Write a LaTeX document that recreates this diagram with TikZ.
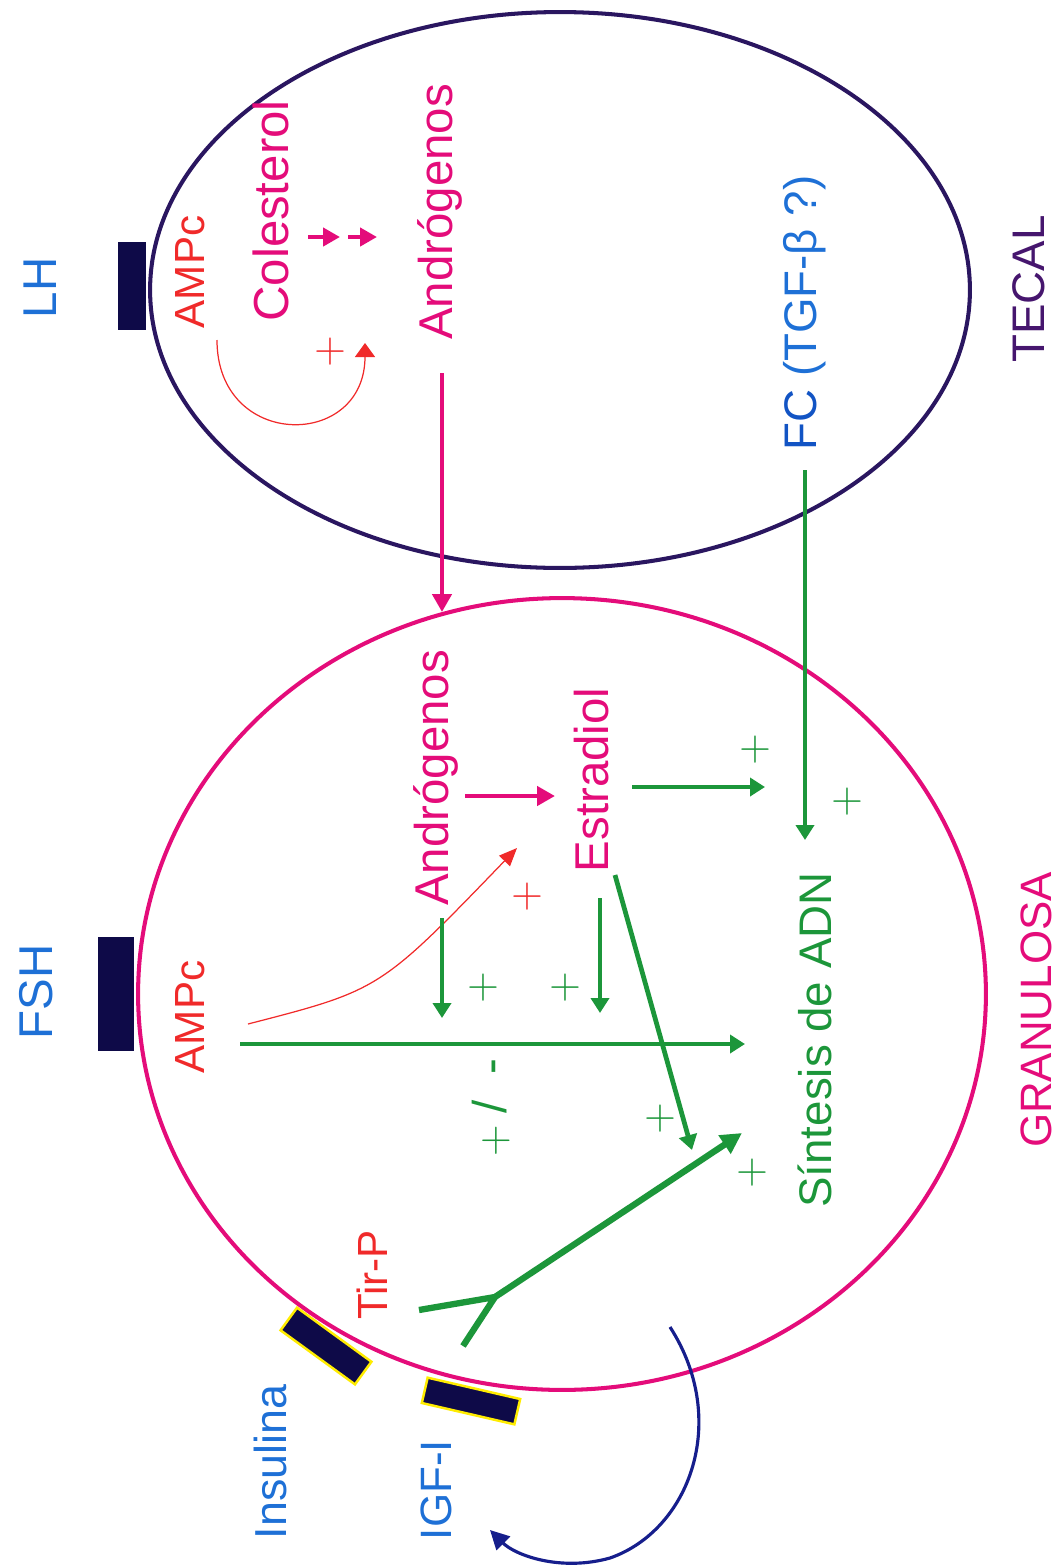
\documentclass[tikz,border=0pt]{standalone}
\usepackage{fontspec}
\setmainfont{Liberation Sans}
\usetikzlibrary{arrows.meta,positioning}
\definecolor{mag}{RGB}{228,12,122}
\definecolor{grn}{RGB}{28,150,58}
\definecolor{rd}{RGB}{240,42,42}
\definecolor{blu}{RGB}{30,112,214}
\definecolor{fcb}{RGB}{18,84,196}
\definecolor{nvy}{RGB}{14,10,72}
\definecolor{tec}{RGB}{42,22,96}
\definecolor{tecl}{RGB}{70,22,110}
\definecolor{ylw}{RGB}{255,236,0}
\definecolor{arcb}{RGB}{22,30,140}
\tikzset{lbl/.style={rotate=90,inner sep=0pt,font=\fontsize{#1}{#1}\selectfont},lbl/.default=26,
 sgn/.style={inner sep=0pt,font=\fontsize{30}{30}\selectfont},
 rcp/.style={fill=nvy,inner sep=0pt},
 ga/.style={draw=grn,line width=2.7pt,-{Triangle[length=0.3cm,width=0.36cm]}},
 ma/.style={draw=mag,line width=2.7pt,-{Triangle[length=0.36cm,width=0.38cm]}},
 ra/.style={draw=rd,line width=0.7pt,-{Triangle[length=0.3cm,width=0.32cm]}}}

\begin{document}
\begin{tikzpicture}[x=0.02cm,y=-0.02cm]
\useasboundingbox (0,0) rectangle (1060,1566);
\draw[tec,line width=2.3pt] (560,290) ellipse [x radius=8.2cm,y radius=5.56cm];
\draw[mag,line width=2.3pt] (562,994) ellipse [x radius=8.48cm,y radius=7.92cm];
\node[rcp,minimum width=0.58cm,minimum height=1.76cm] (lhr) at (132,286) {};
\node[rcp,minimum width=0.74cm,minimum height=2.28cm] (fshr) at (116,994) {};
\node[rcp,draw=ylw,line width=1.4pt,minimum width=1.84cm,minimum height=0.56cm,rotate=-36] (insr) at (326,1346) {};
\node[rcp,draw=ylw,line width=1.4pt,minimum width=1.9cm,minimum height=0.52cm,rotate=-13] (igfr) at (471,1401) {};
\node[lbl=27,blu] (lh) at (40,288) {LH};\node[lbl=24,rd] (amp1) at (190,272) {AMPc};
\node[lbl=28,mag] (col) at (271,211) {Colesterol};\node[lbl=27,mag] (and1) at (440,212) {Andrógenos};
\node[lbl,fcb] (fc) at (805,313) {FC \textcolor{blu}{(TGF-β ?)}};\node[lbl,tecl] (tecal) at (1029,289) {TECAL};
\node[lbl=27,mag] (and2) at (436,778) {Andrógenos};\node[lbl=27,mag] (est) at (592,780) {Estradiol};
\node[lbl,grn] (sint) at (815,1040) {Síntesis de ADN};\node[lbl=25,mag] (gran) at (1036,1010) {GRANULOSA};
\node[lbl=27,blu] (fsh) at (36,992) {FSH};\node[lbl=24,rd] (amp2) at (190,1017) {AMPc};
\node[lbl=24,rd] (tir) at (372,1275) {Tir-P};\node[lbl=25.5,blu] (ins) at (270,1462) {Insulina};
\node[lbl=25,blu] (igf) at (436,1490) {IGF-I};
\node[sgn,rd] (p1) at (330,352) {$+$};\node[sgn,rd] (p2) at (527,897) {$+$};
\node[sgn,grn] (p3) at (483,988) {$+$};\node[sgn,grn] (p4) at (565,988) {$+$};
\node[sgn,grn] (p5) at (755,750) {$+$};\node[sgn,grn] (p6) at (847,802) {$+$};
\node[sgn,grn] (p7) at (660,1119) {$+$};\node[sgn,grn] (p8) at (752,1173) {$+$};
\node[lbl=27,grn] (pm) at (491,1108) {{\fontsize{30}{30}\selectfont$+$}\hspace{0.25cm}/\hspace{0.5cm}-};
\coordinate (k1) at (308,237);\coordinate (k2) at (340,237);\coordinate (k3) at (348,237);\coordinate (k4) at (377,237);
\coordinate (r1) at (217,340);\coordinate (r2) at (365,343);\coordinate (r3) at (248,1024);\coordinate (r4) at (517,848);
\coordinate (m1) at (442,373);\coordinate (m2) at (442,612);\coordinate (m3) at (465,796);\coordinate (m4) at (555,796);
\coordinate (f1) at (805,470);\coordinate (f2) at (805,840);
\coordinate (e1) at (632,787);\coordinate (e2) at (765,787);\coordinate (e3) at (600,898);\coordinate (e4) at (600,1013);
\coordinate (e5) at (615,875);\coordinate (e6) at (692,1150);
\coordinate (h1) at (240,1044);\coordinate (h2) at (745,1044);\coordinate (n1) at (442,918);\coordinate (n2) at (442,1018);
\coordinate (y0) at (495,1297);\coordinate (y1) at (419,1310);\coordinate (y2) at (463,1346);\coordinate (y3) at (742,1133);
\coordinate (b1) at (670,1327);\coordinate (b2) at (490,1530);
\draw[ma,-{Triangle[length=0.34cm,width=0.36cm]}] (k1)--(k2);\draw[ma,-{Triangle[length=0.34cm,width=0.36cm]}] (k3)--(k4);
\draw[ra,-{Triangle[length=0.28cm,width=0.4cm]}] (r1) .. controls (217,450) and (365,450) .. (r2);
\draw[ra,-{Triangle[length=0.36cm,width=0.3cm]}] (r3) .. controls (380,990) .. (r4);
\draw[ma] (m1)--(m2);\draw[ma] (m3)--(m4);
\draw[ga] (f1)--(f2);\draw[ga] (e1)--(e2);\draw[ga] (e3)--(e4);\draw[ga] (e5)--(e6);
\draw[ga] (h1)--(h2);\draw[ga] (n1)--(n2);
\draw[ga,line width=3.6pt,-{Triangle[length=0.42cm,width=0.42cm]}] (y0)--(y3);
\draw[grn,line width=3.6pt] (y1)--(y0)--(y2);
\draw[arcb,line width=1.8pt,-{Triangle[length=0.38cm,width=0.38cm]}] (b1) .. controls (730,1420) and (690,1530) .. (610,1558) .. controls (560,1572) and (515,1555) .. (b2);
\end{tikzpicture}
\end{document}
